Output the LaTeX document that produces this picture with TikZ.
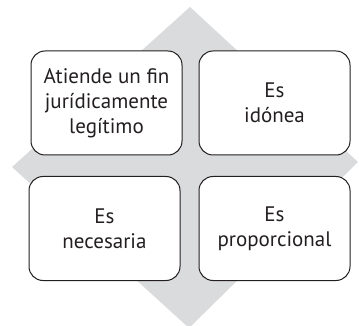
\documentclass[tikz,border=0pt]{standalone}
\usepackage{fontspec}
\setmainfont{PT Sans}
\definecolor{gris}{RGB}{218,219,220}
\definecolor{tinta}{RGB}{35,31,32}
\begin{document}
\begin{tikzpicture}[x=1pt,y=-1pt,
  caja/.style={draw=tinta, line width=1pt, fill=white, rounded corners=14pt,
    minimum width=151pt, minimum height=104pt, align=center, text=tinta,
    font=\fontsize{21}{25}\selectfont}]
\useasboundingbox (0,0) rectangle (359,326);

% Gray diamond behind the four boxes
\fill[gris] (190,7) -- (358,162) -- (189,328) -- (12,167) -- cycle;

% The four boxes
\node[caja] (fin) at (106.5,103) {Atiende un fin\\jurídicamente\\legítimo};
\node[caja] (idonea) at (274.5,103) {Es\\idónea};
\node[caja] (necesaria) at (104.5,228.5) {Es\\necesaria};
\node[caja] (proporcional) at (274.5,228.5) {Es\\proporcional};

\end{tikzpicture}
\end{document}
